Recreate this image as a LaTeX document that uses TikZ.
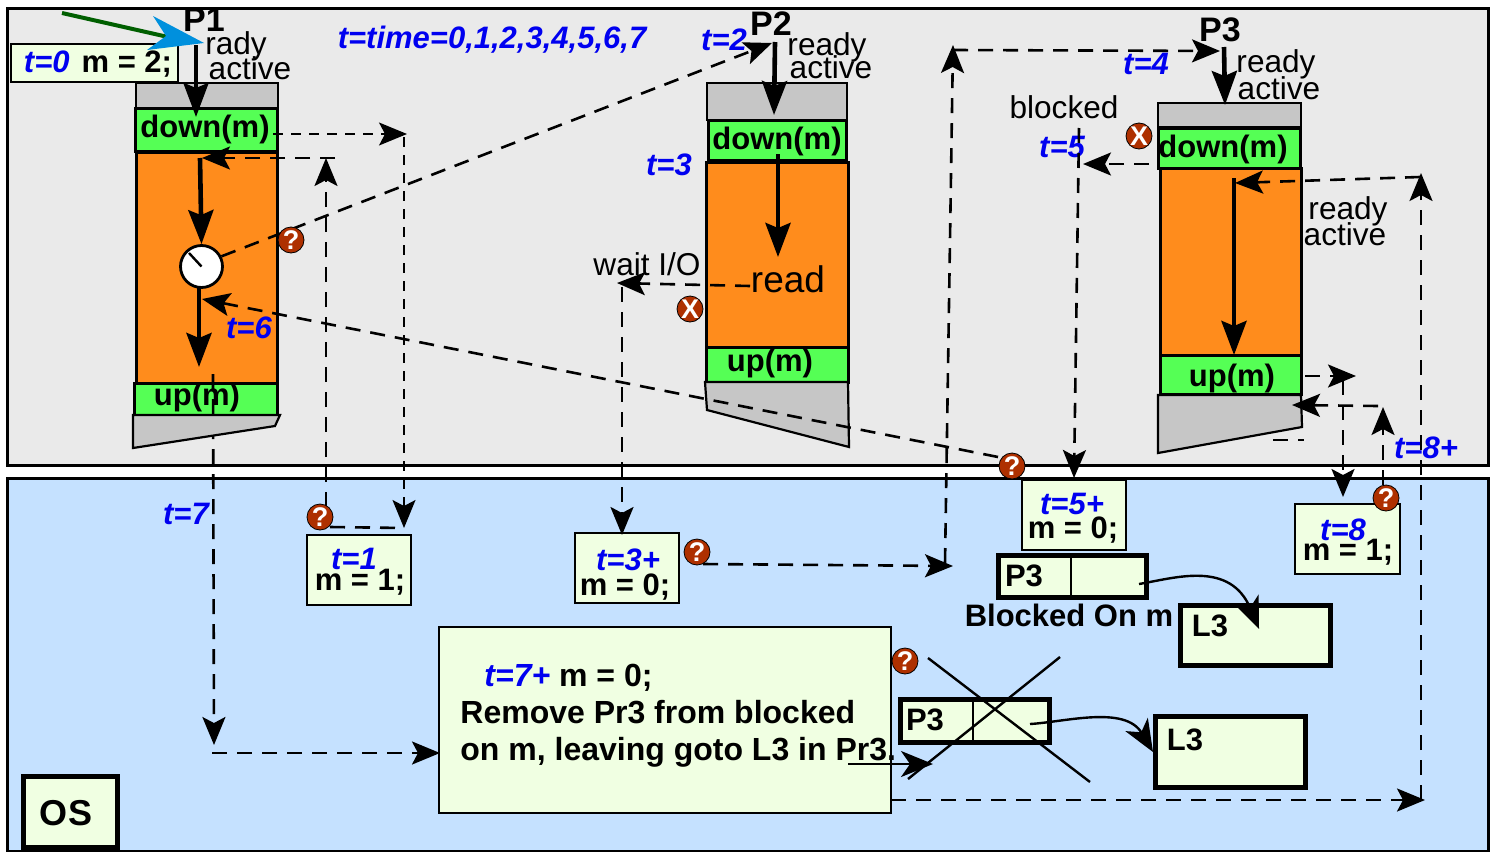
\documentclass[tikz,border=0pt]{standalone}
\usepackage{fontspec}
\setmainfont{Liberation Sans}
\usepackage{xcolor}
\usetikzlibrary{arrows.meta,fit}
\definecolor{panelgrey}{HTML}{EAEAEA}
\definecolor{panelblue}{HTML}{C5E1FF}
\definecolor{stackgrey}{HTML}{C6C6C6}
\definecolor{codeorange}{HTML}{FF8C1C}
\definecolor{codegreen}{HTML}{55FF55}
\definecolor{notelime}{HTML}{F0FFE2}
\definecolor{timeblue}{HTML}{0000F0}
\definecolor{iconred}{HTML}{AE3000}
\definecolor{pendark}{HTML}{005F00}
\definecolor{pointerblue}{HTML}{0090DD}
\newcommand{\tmark}[1]{\textcolor{timeblue}{\itshape #1}}
\tikzset{
  panel/.style={draw=black, line width=1.5pt, inner sep=0pt},
  stackbox/.style={draw=black, line width=1.1pt, fill=stackgrey, inner sep=0pt},
  greenbox/.style={draw=black, line width=1.5pt, fill=codegreen, inner sep=0pt},
  orangebox/.style={draw=black, line width=1.5pt, fill=codeorange, inner sep=0pt},
  notebox/.style={draw=black, line width=1.4pt, fill=notelime, inner sep=0pt},
  heavybox/.style={draw=black, line width=2.5pt, fill=notelime, inner sep=0pt},
  boldlab/.style={inner sep=0pt, font=\fontsize{15.5}{16}\selectfont\bfseries},
  plainlab/.style={inner sep=0pt, font=\fontsize{15.8}{16}\selectfont},
  timelab/.style={inner sep=0pt, text=timeblue, font=\fontsize{15.5}{16}\selectfont\bfseries\itshape},
  procname/.style={inner sep=0pt, font=\fontsize{17}{17}\selectfont\bfseries},
  askicon/.style={circle, draw=black, line width=.4pt, fill=iconred, text=white, inner sep=0pt, minimum size=13pt, font=\fontsize{13.5}{14}\selectfont\bfseries},
  thinflow/.style={line width=.75pt, dash pattern=on 5pt off 4pt},
  thickflow/.style={line width=1.3pt, dash pattern=on 7.5pt off 5pt},
  flowtip/.style={-{Stealth[length=14pt,width=11.5pt,inset=3pt]}},
  solidflow/.style={line width=2.3pt, -{Stealth[length=17pt,width=12.5pt,inset=2.5pt]}},
  curvetip/.style={line width=1.2pt, -{Stealth[length=16pt,width=13pt,inset=4.5pt]}},
}
\begin{document}
\begin{tikzpicture}[x=0.5pt,y=-0.5pt]
  \useasboundingbox (0,0) rectangle (1492,851);
  \node (userpanel) [panel, fill=panelgrey, fit={(7,8) (1488,465)}] {};
  \node (ospanel) [panel, fill=panelblue, fit={(7,478) (1488,851)}] {};

  \node (ponetop) [stackbox, fit={(136,83) (278,108)}] {};
  \node (ponedown) [greenbox, fit={(135,108) (277,151)}] {};
  \node (ponebody) [orangebox, fit={(136,152) (277,383)}] {};
  \node (poneup) [greenbox, fit={(134,383) (277,415)}] {};
  \node (ptwotop) [stackbox, fit={(707,83) (847,120)}] {};
  \node (ptwodown) [greenbox, fit={(708,120) (846,160)}] {};
  \node (ptwobody) [orangebox, fit={(706,162) (848,347)}] {};
  \node (ptwoup) [greenbox, fit={(706,347) (848,382)}] {};
  \node (pthreetop) [stackbox, fit={(1158,103) (1301,127)}] {};
  \node (pthreedown) [greenbox, fit={(1158,128) (1300,168)}] {};
  \node (pthreebody) [orangebox, fit={(1160,168) (1301,355)}] {};
  \node (pthreeup) [greenbox, fit={(1160,355) (1301,394)}] {};

  \coordinate (exitstart) at (213,374);
  \coordinate (exitend) at (214,745);
  \draw[thickflow, flowtip] (exitstart) -- (exitend);
  \draw[stackbox] (133,415) -- (280,415) -- (275,426) -- (133,448) -- cycle;
  \draw[stackbox] (705,382) -- (848,382) -- (849,447) -- (707,410) -- cycle;
  \draw[stackbox] (1158,395) -- (1301,395) -- (1302,427) -- (1158,453) -- cycle;

  \node (ponedownlab) [boldlab] at (205,129) {down(m)};
  \node (poneuplab) [boldlab] at (197,397) {up(m)};
  \node (ptwodownlab) [boldlab] at (777,141) {down(m)};
  \node (ptwouplab) [boldlab] at (770,363) {up(m)};
  \node (pthreedownlab) [boldlab] at (1223,149) {down(m)};
  \node (pthreeuplab) [boldlab] at (1232,378) {up(m)};

  \node (pone) [procname] at (204,20) {P1};
  \node (ptwo) [procname] at (771,24) {P2};
  \node (pthree) [procname] at (1220,30) {P3};
  \node (radylab) [plainlab] at (236,46) {rady};
  \node (activeone) [plainlab] at (250,68) {active};
  \node (readytwo) [plainlab] at (827,47) {ready};
  \node (activetwo) [plainlab] at (831,67) {active};
  \node (readythree) [plainlab] at (1276,64) {ready};
  \node (activethree) [plainlab] at (1279,88) {active};
  \node (readyfour) [plainlab] at (1348,211) {ready};
  \node (activefour) [plainlab] at (1345,234) {active};
  \node (blockedlab) [plainlab] at (1064,107) {blocked};
  \node (waitlab) [plainlab] at (647,264) {wait I/O};
  \node (readlab) [plainlab, font=\fontsize{18.5}{18}\selectfont] at (788,279) {read};

  \node (tnow) [timelab] at (492,40) {t=time=0,1,2,3,4,5,6,7};
  \node (ttwo) [timelab] at (724,40) {t=2};
  \node (tthree) [timelab] at (669,165) {t=3};
  \node (tfour) [timelab] at (1146,64) {t=4};
  \node (tfive) [timelab] at (1062,147) {t=5};
  \node (tsix) [timelab] at (249,328) {t=6};
  \node (tseven) [timelab] at (186,514) {t=7};
  \node (teightplus) [timelab] at (1426,448) {t=8+};

  \node (mzero) [notebox, fit={(11,44) (178,82)}] {};
  \node (mzerolab) [boldlab] at (98,64) {\tmark{t=0}\hspace{6pt}m = 2;};
  \node (mone) [notebox, fit={(307,535) (411,605)}] {};
  \node (monet) [timelab] at (354,559) {t=1};
  \node (monem) [boldlab] at (360,582) {m = 1;};
  \node (mthree) [notebox, fit={(575,533) (679,603)}] {};
  \node (mthreet) [timelab] at (628,560) {t=3+};
  \node (mthreem) [boldlab] at (625,587) {m = 0;};
  \node (mfive) [notebox, fit={(1022,480) (1126,550)}] {};
  \node (mfivet) [timelab] at (1072,504) {t=5+};
  \node (mfivem) [boldlab] at (1073,530) {m = 0;};
  \node (meight) [notebox, fit={(1295,504) (1400,574)}] {};
  \node (meightt) [timelab] at (1343,530) {t=8};
  \node (meightm) [boldlab] at (1348,552) {m = 1;};
  \node (osbox) [heavybox, fit={(23,776) (117,847)}] {};
  \node (oslab) [inner sep=0pt, font=\fontsize{18}{18}\selectfont\bfseries] at (66,813) {OS};

  \node (blockbox) [heavybox, fit={(998,555) (1146,597)}] {};
  \node (blocklab) [boldlab] at (1024,576) {P3};
  \node (blockedon) [boldlab] at (1069,615) {Blocked On m};
  \node (jumpbox) [heavybox, fit={(1180,605) (1330,665)}] {};
  \node (jumplab) [boldlab] at (1210,626) {L3};
  \node (freebox) [heavybox, fit={(900,699) (1049,742)}] {};
  \node (freelab) [boldlab] at (925,720) {P3};
  \node (lastbox) [heavybox, fit={(1155,716) (1305,787)}] {};
  \node (lastlab) [boldlab] at (1185,740) {L3};
  \node (removebox) [notebox, line width=1pt, fit={(439,627) (891,813)}] {};
  \node (removelab) [boldlab, anchor=north west, align=left, font=\fontsize{16}{18.5}\selectfont\bfseries] at (460,664) {\hspace{12pt}\tmark{t=7+} m = 0;\\Remove Pr3 from blocked\\on m, leaving goto L3 in Pr3.};

  \draw[line width=1.3pt] (1071,557) -- (1071,596);
  \draw[line width=1.3pt] (973,700) -- (973,741);
  \node (clock) [circle, draw=black, fill=white, line width=1.4pt, minimum size=21pt, inner sep=0pt] at (201.5,266.5) {};
  \draw[line width=1.2pt] (189,253) -- (clock.center);

  \coordinate (sdownout) at (273,134);
  \coordinate (sdowntip) at (407,134);
  \coordinate (sdownbend) at (404,137);
  \coordinate (sonedown) at (404,528);
  \draw[thinflow, flowtip] (sdownout) -- (sdowntip);
  \draw[thinflow, flowtip] (sdownbend) -- (sonedown);

  \coordinate (returnbend) at (330,527);
  \coordinate (returnup) at (326,507);
  \coordinate (returntip) at (326,158);
  \coordinate (resumestart) at (335,158);
  \coordinate (resumetip) at (202,158);
  \draw[thickflow] (returnbend) -- (sonedown);
  \draw[thickflow, flowtip] (returnup) -- (returntip);
  \draw[thickflow, flowtip] (resumestart) -- (resumetip);
  \coordinate (firstrun) at (200,158);
  \draw[solidflow] (firstrun) -- (clock.north);

  \coordinate (ptwoin) at (772,43);
  \draw[thickflow, flowtip] (clock.27) -- (ptwoin);
  \coordinate (ptwohead) at (775,42);
  \coordinate (ptwoend) at (774,115);
  \draw[solidflow] (ptwohead) -- (ptwoend);
  \coordinate (ptworun) at (778,154);
  \coordinate (ptworunend) at (778,257);
  \draw[solidflow] (ptworun) -- (ptworunend);
  \coordinate (waitstart) at (750,286);
  \coordinate (waittip) at (617,283);
  \coordinate (waitbend) at (622,287);
  \coordinate (waitend) at (622,535);
  \draw[thickflow, flowtip] (waitstart) -- (waittip);
  \draw[thickflow, flowtip] (waitbend) -- (waitend);
  \coordinate (dispatchstart) at (703,564);
  \coordinate (dispatchtip) at (953,566);
  \coordinate (dispatchbend) at (945,563);
  \coordinate (dispatchup) at (953,45);
  \coordinate (dispatchtop) at (953,50);
  \coordinate (pthreein) at (1220,51);
  \draw[thickflow, flowtip] (dispatchstart) -- (dispatchtip);
  \draw[thickflow, flowtip] (dispatchbend) -- (dispatchup);
  \draw[thickflow, flowtip] (dispatchtop) -- (pthreein);

  \coordinate (ponehead) at (196,45);
  \coordinate (poneend) at (196,117);
  \draw[solidflow] (ponehead) -- (poneend);
  \coordinate (pthreehead) at (1224,47);
  \coordinate (pthreeend) at (1225,105);
  \draw[solidflow] (pthreehead) -- (pthreeend);

  \coordinate (blockstart) at (1149,164);
  \coordinate (blocktip) at (1083,164);
  \coordinate (blockbend) at (1079,128);
  \coordinate (blockend) at (1074,478);
  \draw[thickflow, flowtip] (blockstart) -- (blocktip);
  \draw[thickflow, flowtip] (blockbend) -- (blockend);

  \coordinate (wakestart) at (998,457);
  \coordinate (waketip) at (202,299);
  \draw[thickflow, flowtip] (wakestart) -- (waketip);
  \coordinate (waitup) at (199,287);
  \coordinate (runend) at (199,367);
  \draw[solidflow] (waitup) -- (runend);

  \coordinate (exitbend) at (212,753);
  \coordinate (exittip) at (440,753);
  \draw[thickflow, flowtip] (exitbend) -- (exittip);
  \coordinate (removestart) at (848,764);
  \coordinate (removetip) at (933,764);
  \draw[curvetip] (removestart) -- (removetip);

  \coordinate (crossa) at (928,658);
  \coordinate (crossb) at (1090,782);
  \coordinate (crossc) at (1060,657);
  \coordinate (crossd) at (908,779);
  \draw[line width=1.2pt] (crossa) -- (crossb);
  \draw[line width=1.2pt] (crossc) -- (crossd);

  \coordinate (gotostart) at (1139,584);
  \coordinate (gototip) at (1259,629);
  \draw[curvetip] (gotostart) .. controls (1175,578) and (1230,560) .. (gototip);
  \coordinate (laststart) at (1030,724);
  \coordinate (lasttip) at (1153,752);
  \draw[curvetip] (laststart) .. controls (1065,722) and (1125,705) .. (lasttip);

  \coordinate (resumeout) at (891,800);
  \coordinate (resumeouttip) at (1425,800);
  \coordinate (resumebend) at (1421,800);
  \coordinate (resumeup) at (1421,173);
  \coordinate (resumetop) at (1420,177);
  \coordinate (resumein) at (1235,183);
  \draw[thickflow, flowtip] (resumeout) -- (resumeouttip);
  \draw[thickflow, flowtip] (resumebend) -- (resumeup);
  \draw[thickflow, flowtip] (resumetop) -- (resumein);
  \coordinate (lastrun) at (1234,178);
  \coordinate (lastrunend) at (1234,355);
  \draw[solidflow] (lastrun) -- (lastrunend);

  \coordinate (upout) at (1305,376);
  \coordinate (uptip) at (1356,376);
  \coordinate (upbend) at (1343,380);
  \coordinate (upend) at (1343,497);
  \coordinate (backup) at (1383,485);
  \coordinate (backtip) at (1383,407);
  \coordinate (backstart) at (1378,406);
  \coordinate (backend) at (1292,405);
  \coordinate (stubstart) at (1273,440);
  \coordinate (stubend) at (1304,440);
  \draw[thickflow, flowtip] (upout) -- (uptip);
  \draw[thickflow, flowtip] (upbend) -- (upend);
  \draw[thickflow, flowtip] (backup) -- (backtip);
  \draw[thickflow, flowtip] (backstart) -- (backend);
  \draw[thickflow] (stubstart) -- (stubend);

  \coordinate (penstart) at (62,13);
  \coordinate (penend) at (168,37);
  \draw[pendark, line width=2pt] (penstart) -- (penend);
  \fill[pointerblue] (153,16) -- (204,43) -- (147,50) -- (166,36) -- cycle;

  \node (askone) [askicon] at (291,240) {?};
  \node (asktwo) [askicon] at (320,517) {?};
  \node (askthree) [askicon] at (697,552) {?};
  \node (askfour) [askicon] at (1012,466) {?};
  \node (askfive) [askicon] at (905,661) {?};
  \node (asksix) [askicon] at (1386,498) {?};
  \node (stopone) [askicon] at (690,309) {X};
  \node (stoptwo) [askicon] at (1139,136) {X};
\end{tikzpicture}
\end{document}
